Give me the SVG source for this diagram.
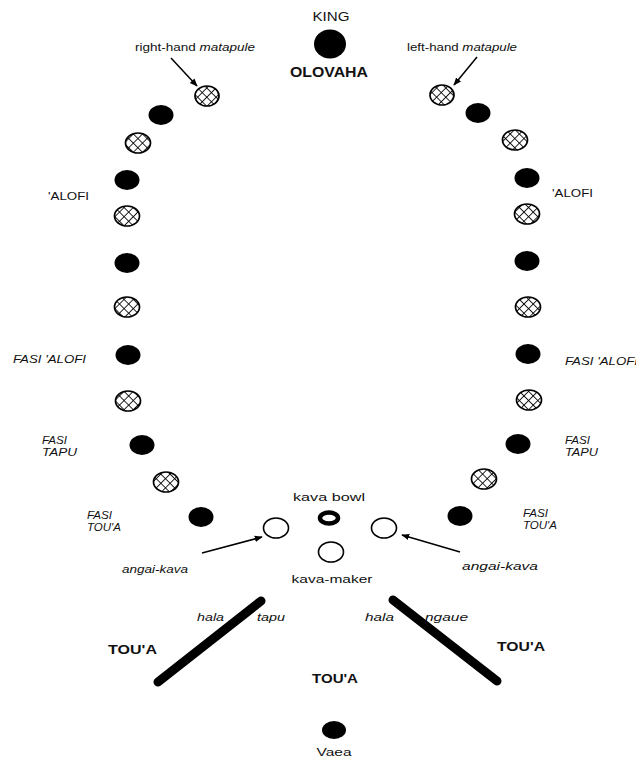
<svg xmlns="http://www.w3.org/2000/svg" width="636" height="760" viewBox="0 0 636 760">
  <style>
    text { font-family: "Liberation Sans", Arial, sans-serif; fill: #111; }
    .lbl { font-size: 10.5px; }
    .it { font-style: italic; }
    .bold { font-weight: bold; }
    .mid { text-anchor: middle; }
    .chief { fill: #000; }
    .mata { fill: url(#hatch); stroke: #000; stroke-width: 1.7; }
    .open { fill: #fff; stroke: #000; stroke-width: 1.6; }
    .arrow { stroke: #000; stroke-width: 1.5; fill: none; marker-end: url(#head); }
    .bar { stroke: #000; stroke-width: 9; stroke-linecap: round; }
  </style>
  <defs>
    <pattern id="hatch" patternUnits="userSpaceOnUse" width="6.5" height="6.5" patternTransform="rotate(45)">
      <rect width="6.5" height="6.5" fill="#fff"/>
      <line x1="0" y1="0" x2="6.5" y2="0" stroke="#000" stroke-width="1.7"/>
      <line x1="0" y1="0" x2="0" y2="6.5" stroke="#000" stroke-width="1.7"/>
    </pattern>
    <marker id="head" viewBox="0 0 10 10" refX="9" refY="5" markerWidth="8" markerHeight="8" markerUnits="userSpaceOnUse" orient="auto">
      <path d="M0,1 L10,5 L0,9 Z" fill="#000"/>
    </marker>
  </defs>

  <rect width="636" height="760" fill="#fff"/>

  <!-- king and herald -->
  <g id="king">
    <text x="331" y="21" class="mid" font-size="12" textLength="37" lengthAdjust="spacingAndGlyphs">KING</text>
    <ellipse cx="330" cy="44" rx="16" ry="14.5" class="chief"/>
    <text x="329" y="77" class="mid bold" font-size="14" textLength="78" lengthAdjust="spacingAndGlyphs">OLOVAHA</text>
  </g>

  <!-- matapule labels -->
  <g id="label-right-hand">
    <text x="135" y="51" class="lbl" textLength="120" lengthAdjust="spacingAndGlyphs">right-hand <tspan class="it">matapule</tspan></text>
  </g>
  <g id="label-left-hand">
    <text x="407" y="51" class="lbl" textLength="110" lengthAdjust="spacingAndGlyphs">left-hand <tspan class="it">matapule</tspan></text>
  </g>

  <!-- left arc of seats -->
  <g id="seat-l1"><ellipse cx="207" cy="96" rx="12" ry="10" class="mata"/></g>
  <g id="seat-l2"><ellipse cx="161" cy="115" rx="12.5" ry="10" class="chief"/></g>
  <g id="seat-l3"><ellipse cx="138" cy="143" rx="12.5" ry="10" class="mata"/></g>
  <g id="seat-l4"><ellipse cx="127" cy="180" rx="12.5" ry="10" class="chief"/></g>
  <g id="seat-l5"><ellipse cx="127" cy="216" rx="12.5" ry="10" class="mata"/></g>
  <g id="seat-l6"><ellipse cx="127" cy="263" rx="12.5" ry="10" class="chief"/></g>
  <g id="seat-l7"><ellipse cx="127" cy="307" rx="12.5" ry="10" class="mata"/></g>
  <g id="seat-l8"><ellipse cx="128" cy="355" rx="12.5" ry="10" class="chief"/></g>
  <g id="seat-l9"><ellipse cx="128" cy="401" rx="12.5" ry="10" class="mata"/></g>
  <g id="seat-l10"><ellipse cx="142" cy="445" rx="12.5" ry="10" class="chief"/></g>
  <g id="seat-l11"><ellipse cx="166" cy="482" rx="12.5" ry="10" class="mata"/></g>
  <g id="seat-l12"><ellipse cx="201" cy="517" rx="12.5" ry="10" class="chief"/></g>

  <!-- right arc of seats -->
  <g id="seat-r1"><ellipse cx="442" cy="95" rx="12" ry="10" class="mata"/></g>
  <g id="seat-r2"><ellipse cx="478" cy="113" rx="12.5" ry="10" class="chief"/></g>
  <g id="seat-r3"><ellipse cx="515" cy="140" rx="12.5" ry="10" class="mata"/></g>
  <g id="seat-r4"><ellipse cx="527" cy="178" rx="12.5" ry="10" class="chief"/></g>
  <g id="seat-r5"><ellipse cx="527" cy="214" rx="12.5" ry="10" class="mata"/></g>
  <g id="seat-r6"><ellipse cx="527" cy="261" rx="12.5" ry="10" class="chief"/></g>
  <g id="seat-r7"><ellipse cx="528" cy="307" rx="12.5" ry="10" class="mata"/></g>
  <g id="seat-r8"><ellipse cx="528" cy="354" rx="12.5" ry="10" class="chief"/></g>
  <g id="seat-r9"><ellipse cx="529" cy="400" rx="12.5" ry="10" class="mata"/></g>
  <g id="seat-r10"><ellipse cx="518" cy="444" rx="12.5" ry="10" class="chief"/></g>
  <g id="seat-r11"><ellipse cx="484" cy="479" rx="12.5" ry="10" class="mata"/></g>
  <g id="seat-r12"><ellipse cx="460" cy="516" rx="12.5" ry="10" class="chief"/></g>

  <!-- side labels -->
  <g id="labels-left">
    <text x="48" y="200" class="lbl" textLength="41" lengthAdjust="spacingAndGlyphs">'ALOFI</text>
    <text x="13" y="363" class="lbl it" textLength="73" lengthAdjust="spacingAndGlyphs">FASI 'ALOFI</text>
    <text x="42" y="444" class="lbl it" textLength="25" lengthAdjust="spacingAndGlyphs">FASI</text>
    <text x="42" y="456" class="lbl it" textLength="35" lengthAdjust="spacingAndGlyphs">TAPU</text>
    <text x="87" y="519" class="lbl it" textLength="25" lengthAdjust="spacingAndGlyphs">FASI</text>
    <text x="87" y="531" class="lbl it" textLength="34" lengthAdjust="spacingAndGlyphs">TOU'A</text>
  </g>
  <g id="labels-right">
    <text x="552" y="197" class="lbl" textLength="41" lengthAdjust="spacingAndGlyphs">'ALOFI</text>
    <text x="565" y="365" class="lbl it" textLength="73" lengthAdjust="spacingAndGlyphs">FASI 'ALOFI</text>
    <text x="565" y="444" class="lbl it" textLength="25" lengthAdjust="spacingAndGlyphs">FASI</text>
    <text x="565" y="456" class="lbl it" textLength="33" lengthAdjust="spacingAndGlyphs">TAPU</text>
    <text x="523" y="517" class="lbl it" textLength="25" lengthAdjust="spacingAndGlyphs">FASI</text>
    <text x="523" y="529" class="lbl it" textLength="34" lengthAdjust="spacingAndGlyphs">TOU'A</text>
  </g>

  <!-- kava circle -->
  <g id="kava-bowl">
    <text x="329" y="501" class="mid" font-size="11.5" textLength="72" lengthAdjust="spacingAndGlyphs">kava bowl</text>
    <ellipse cx="329" cy="518" rx="9" ry="5.5" fill="#fff" stroke="#000" stroke-width="4.5"/>
  </g>
  <g id="angai-kava-left">
    <ellipse cx="276" cy="528" rx="12.5" ry="10" class="open"/>
    <text x="122" y="573" class="lbl it" textLength="66" lengthAdjust="spacingAndGlyphs">angai-kava</text>
  </g>
  <g id="angai-kava-right">
    <ellipse cx="384" cy="528" rx="12.5" ry="10" class="open"/>
    <text x="462" y="570" class="lbl it" textLength="76" lengthAdjust="spacingAndGlyphs">angai-kava</text>
  </g>
  <g id="kava-maker">
    <ellipse cx="331" cy="552" rx="12.5" ry="10" class="open"/>
    <text x="332" y="583" class="mid" font-size="11.5" textLength="81" lengthAdjust="spacingAndGlyphs">kava-maker</text>
  </g>

  <!-- the two paths (hala) -->
  <g id="hala-tapu">
    <line x1="261" y1="601" x2="158" y2="682" class="bar"/>
    <text x="197" y="621" class="lbl it" textLength="27" lengthAdjust="spacingAndGlyphs">hala</text>
    <text x="257" y="621" class="lbl it" textLength="28" lengthAdjust="spacingAndGlyphs">tapu</text>
  </g>
  <g id="hala-ngaue">
    <line x1="393" y1="600" x2="497" y2="681" class="bar"/>
    <text x="365" y="621" class="lbl it" textLength="29" lengthAdjust="spacingAndGlyphs">hala</text>
    <text x="425" y="621" class="lbl it" textLength="43" lengthAdjust="spacingAndGlyphs">ngaue</text>
  </g>

  <!-- tou'a groups -->
  <g id="toua-left">
    <text x="108" y="654" class="bold" font-size="12" textLength="49" lengthAdjust="spacingAndGlyphs">TOU'A</text>
  </g>
  <g id="toua-right">
    <text x="497" y="651" class="bold" font-size="12" textLength="48" lengthAdjust="spacingAndGlyphs">TOU'A</text>
  </g>
  <g id="toua-centre">
    <text x="312" y="683" class="bold" font-size="12" textLength="46" lengthAdjust="spacingAndGlyphs">TOU'A</text>
  </g>

  <!-- Vaea -->
  <g id="vaea">
    <ellipse cx="334" cy="730" rx="12" ry="9" class="chief"/>
    <text x="334" y="756" class="mid" font-size="11.5" textLength="35" lengthAdjust="spacingAndGlyphs">Vaea</text>
  </g>

  <!-- pointer arrows -->
  <g id="connectors">
    <line x1="171" y1="58" x2="197" y2="86" class="arrow"/>
    <line x1="477" y1="57" x2="454" y2="85" class="arrow"/>
    <line x1="202" y1="553" x2="262" y2="537" class="arrow"/>
    <line x1="460" y1="552" x2="402" y2="535" class="arrow"/>
  </g>
</svg>
